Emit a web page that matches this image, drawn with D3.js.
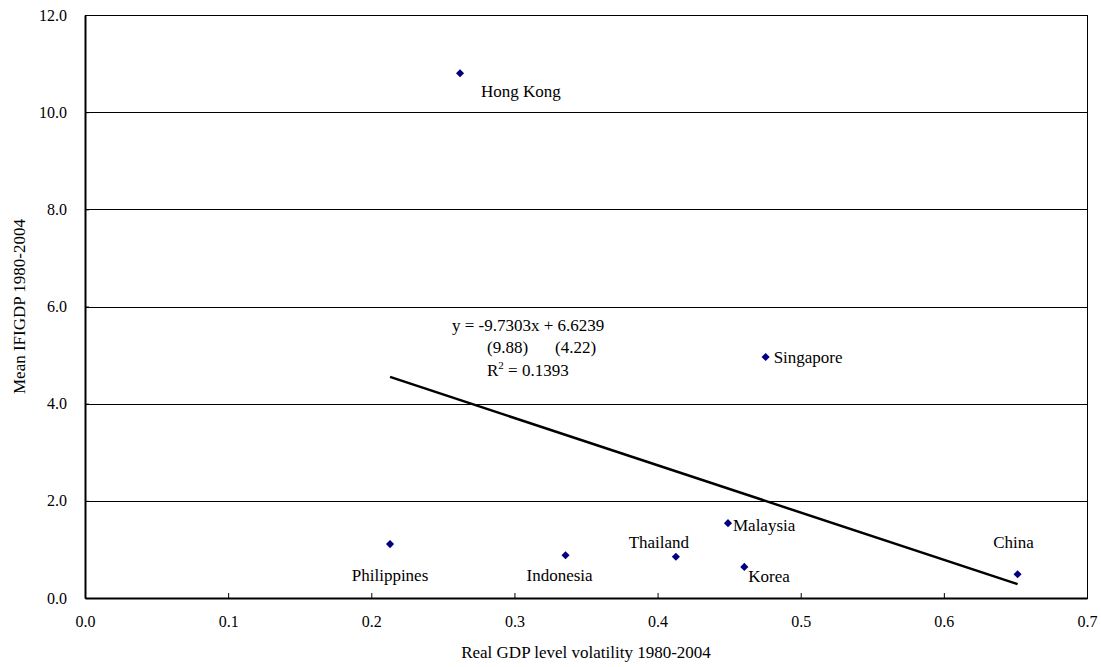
<!DOCTYPE html>
<html>
<head>
<meta charset="utf-8">
<script src="https://cdn.jsdelivr.net/npm/d3@7"></script>
<style>
  body { margin: 0; background: #fff; }
</style>
</head>
<body>
<svg width="1101" height="667"></svg>
<script>
// data
var countries = ["Hong Kong", "Singapore", "Philippines", "Indonesia", "Thailand", "Malaysia", "Korea", "China"];
var volatility = [0.262, 0.4755, 0.2131, 0.3357, 0.4128, 0.4492, 0.4606, 0.6515];
var meanIfi = [10.80, 4.96, 1.11, 0.88, 0.85, 1.54, 0.64, 0.49];
var xTicks = [0, 0.1, 0.2, 0.3, 0.4, 0.5, 0.6, 0.7];
var yTicks = [0, 2, 4, 6, 8, 10, 12];
var slope = -9.7303, intercept = 6.6239;

var serif = "'Liberation Serif'";
var svg = d3.select("svg"),
    margin = { top: 15, right: 14, bottom: 69, left: 85 },
    width = +svg.attr("width") - margin.left - margin.right,
    height = +svg.attr("height") - margin.top - margin.bottom;

var g = svg.append("g")
    .attr("transform", "translate(" + margin.left + "," + margin.top + ")");

var x = d3.scaleLinear().domain([0, 0.7]).range([0, width]);
var y = d3.scaleLinear().domain([0, 12]).range([height, 0]);

// gridlines
g.selectAll(".grid")
    .data(yTicks.filter(function (d) { return d > 0; }))
    .enter().append("line")
    .attr("x1", 0).attr("x2", width)
    .attr("y1", function (d) { return Math.round(y(d)) + 0.5; })
    .attr("y2", function (d) { return Math.round(y(d)) + 0.5; })
    .attr("stroke", "#000").attr("stroke-width", 1);

// frame
g.append("rect")
    .attr("x", 0.5).attr("y", 0.5)
    .attr("width", width).attr("height", height)
    .attr("fill", "none").attr("stroke", "#000").attr("stroke-width", 1);

// x axis
var xAxis = g.append("g")
    .attr("transform", "translate(0," + height + ")")
    .call(d3.axisBottom(x).tickValues(xTicks).tickFormat(d3.format(".1f")).tickSizeInner(-5).tickSizeOuter(0).tickPadding(18));
xAxis.attr("font-family", null).attr("font-size", null);
xAxis.select(".domain").attr("stroke-width", 2);
xAxis.selectAll("text").style("font-family", serif).style("font-size", "16px").attr("fill", "#000");

// y axis
var yAxis = g.append("g")
    .call(d3.axisLeft(y).tickValues(yTicks).tickFormat(d3.format(".1f")).tickSizeInner(-4).tickSizeOuter(0).tickPadding(18));
yAxis.attr("font-family", null).attr("font-size", null);
yAxis.select(".domain").attr("stroke-width", 2);
yAxis.selectAll("text").style("font-family", serif).style("font-size", "16px").attr("fill", "#000");

// trend line
var xExt = d3.extent(volatility);
g.append("line")
    .attr("x1", x(xExt[0])).attr("y1", y(slope * xExt[0] + intercept))
    .attr("x2", x(xExt[1])).attr("y2", y(slope * xExt[1] + intercept))
    .attr("stroke", "#000").attr("stroke-width", 2.5);

// points
var data = countries.map(function (c, i) { return { name: c, vx: volatility[i], vy: meanIfi[i] }; });
g.selectAll(".dot")
    .data(data)
    .enter().append("path")
    .attr("d", d3.symbol().type(d3.symbolDiamond2).size(42))
    .attr("transform", function (d) { return "translate(" + x(d.vx) + "," + y(d.vy) + ")"; })
    .attr("fill", "#000080");

// labels, offsets in px from the point
var labelOffsets = {
    "Hong Kong": [21, 24, "start"],
    "Singapore": [8, 6, "start"],
    "Philippines": [0, 37, "middle"],
    "Indonesia": [-6, 26, "middle"],
    "Thailand": [-17, -9, "middle"],
    "Malaysia": [5, 8, "start"],
    "Korea": [4, 15, "start"],
    "China": [-4, -26, "middle"]
};
g.selectAll(".lbl")
    .data(data)
    .enter().append("text")
    .attr("x", function (d) { return x(d.vx) + labelOffsets[d.name][0]; })
    .attr("y", function (d) { return y(d.vy) + labelOffsets[d.name][1]; })
    .attr("text-anchor", function (d) { return labelOffsets[d.name][2]; })
    .style("font-family", serif)
    .style("font-size", "17px")
    .text(function (d) { return d.name; });

// equation
var eq = g.append("g");
eq.append("text").attr("x", 367).attr("y", 316).style("font-family", serif).style("font-size", "17px")
    .text("y = -9.7303x + 6.6239");
eq.append("text").attr("x", 402).attr("y", 338).style("font-family", serif).style("font-size", "17px")
    .text("(9.88)");
eq.append("text").attr("x", 470).attr("y", 338).style("font-family", serif).style("font-size", "17px")
    .text("(4.22)");
var r2 = eq.append("text").attr("x", 402).attr("y", 361).style("font-family", serif).style("font-size", "17px");
r2.append("tspan").text("R");
r2.append("tspan").attr("dy", -7).style("font-size", "11px").text("2");
r2.append("tspan").attr("dy", 7).text(" = 0.1393");

// axis titles
svg.append("text")
    .attr("x", margin.left + width / 2)
    .attr("y", 658)
    .attr("text-anchor", "middle")
    .style("font-family", serif)
    .style("font-size", "17px")
    .text("Real GDP level volatility 1980-2004");
svg.append("text")
    .attr("transform", "translate(25," + (margin.top + height / 2) + ") rotate(-90)")
    .attr("text-anchor", "middle")
    .style("font-family", serif)
    .style("font-size", "17px")
    .text("Mean IFIGDP 1980-2004");
</script>
</body>
</html>
